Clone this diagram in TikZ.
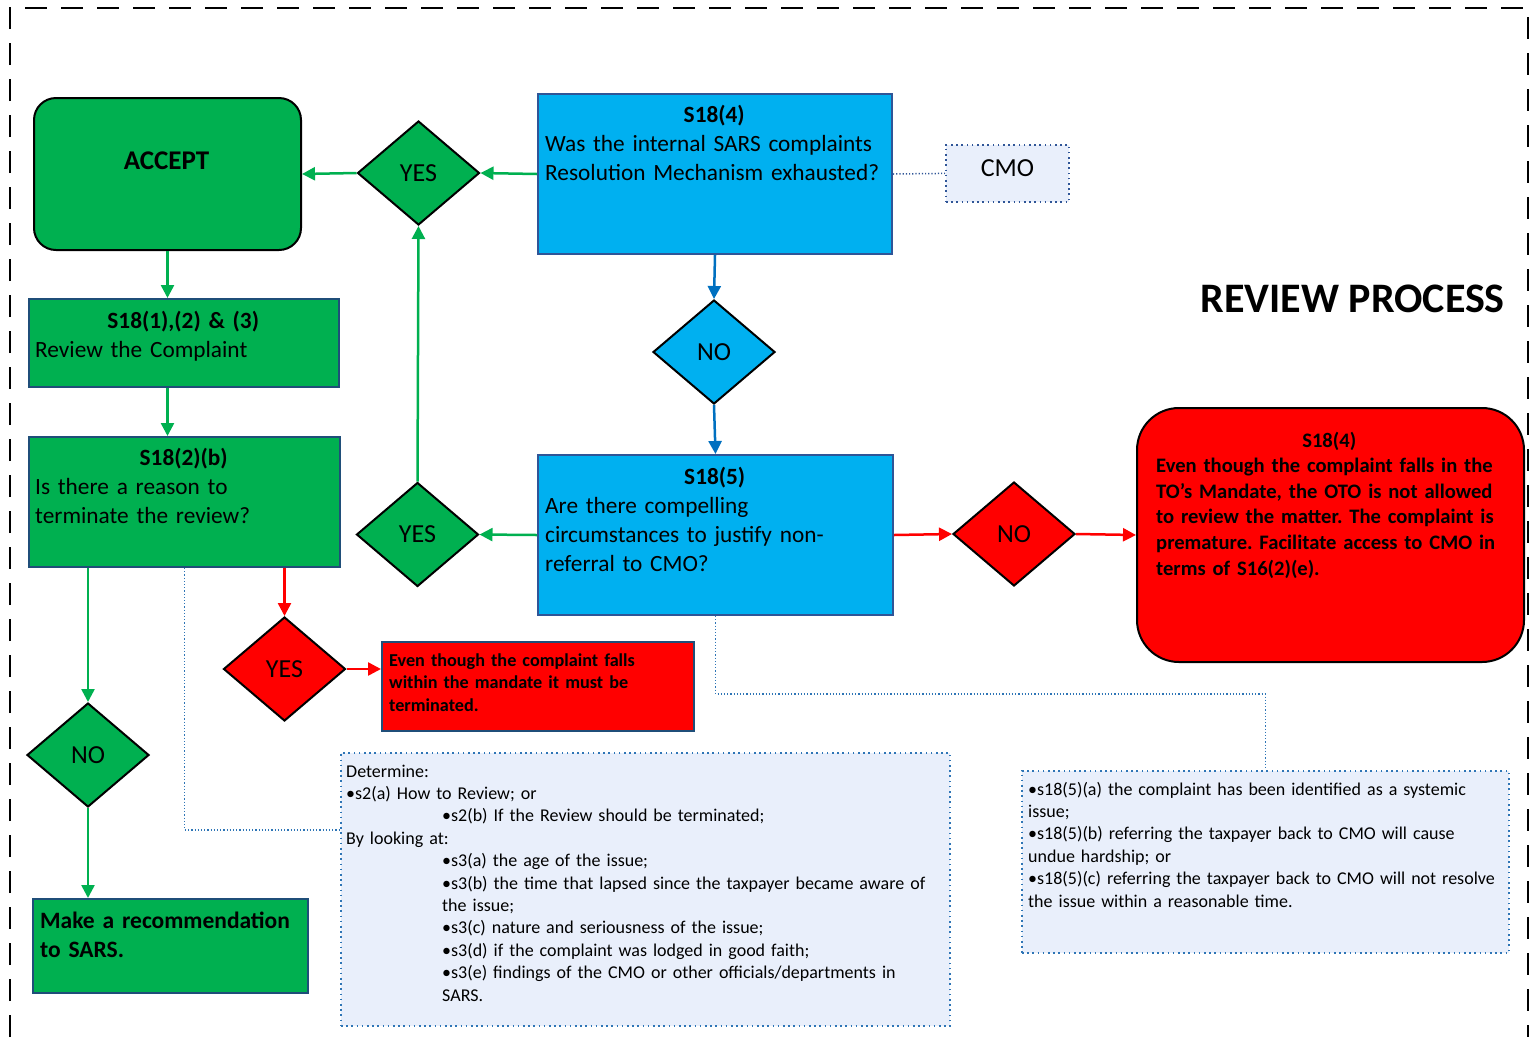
\documentclass[tikz,border=0pt]{standalone}
\usepackage{fontspec}
\setmainfont{Carlito}
\usepackage{xcolor}
\usetikzlibrary{shapes.geometric,arrows.meta,calc}

\definecolor{okgreen}{HTML}{00B050}
\definecolor{skyblue}{HTML}{00B0F0}
\definecolor{arrowblue}{HTML}{0070C0}
\definecolor{boxnavy}{HTML}{1F4E79}
\definecolor{cmonavy}{HTML}{2F5597}
\definecolor{notefill}{HTML}{E9EFFB}
\definecolor{notedot}{HTML}{2E75B6}

\newcommand{\sz}[2]{\fontsize{#1}{#2}\selectfont}
\hyphenpenalty=10000
\exhyphenpenalty=10000

\begin{document}
\frenchspacing
\begin{tikzpicture}[x=1pt, y=-1pt,
  every node/.style={inner sep=0pt, font=\sz{23.3}{29}},
  box/.style={rectangle, anchor=north west, line width=2pt},
  gbox/.style={box, fill=okgreen, draw=boxnavy},
  bbox/.style={box, fill=skyblue, draw=cmonavy},
  rbox/.style={box, fill=red, draw=boxnavy},
  roundbox/.style={box, rounded corners=#1, draw=black},
  note/.style={box, fill=notefill, draw=notedot, line width=1.8pt,
    dash pattern=on 1.6pt off 3.6pt},
  dia/.style={diamond, draw=black, line width=2pt, font=\sz{26}{30},
    minimum width=122pt, minimum height=104pt},
  txt/.style={anchor=base west, align=left, text width=#1},
  garr/.style={draw=okgreen, line width=2.5pt, -{Triangle[length=13pt,width=13pt]}},
  barr/.style={draw=arrowblue, line width=2.5pt, -{Triangle[length=13pt,width=13pt]}},
  rarr/.style={draw=red, line width=2.5pt, -{Triangle[length=13pt,width=13pt]}},
  link/.style={draw=notedot, line width=1.5pt, dash pattern=on 1.2pt off 2pt},
  cmolink/.style={draw=cmonavy, line width=1.5pt, dash pattern=on 1.2pt off 2pt},
  ]
  \useasboundingbox (0,0) rectangle (1530,1037);

  % outer frame
  \draw[line width=2.5pt, dash pattern=on 22pt off 14pt]
    (10,1037) -- (10,8) -- (1528,8) -- (1528,1037);

  % top row
  \node[roundbox=22pt, fill=okgreen, minimum width=267pt, minimum height=152pt] (accept) at (33,97) {};
  \node[font=\bfseries\sz{27}{32}] (accepttxt) at (166.5,161) {ACCEPT};
  \node[dia, fill=okgreen] (yes1) at (418.5,173) {YES};
  \node[bbox, minimum width=354pt, minimum height=160pt] (s184) at (537,93) {};
  \node[txt=338pt] (s184txt) at (545,122)
    {{\centering\bfseries S18(4)\par}Was the internal SARS complaints\\Resolution Mechanism exhausted?};
  \node[note, draw=cmonavy, minimum width=123pt, minimum height=57pt, text depth=10pt,
    font=\sz{26}{30}] (cmo) at (945,144) {CMO};

  \node[anchor=base east, font=\bfseries\sz{42}{50}] (title) at (1505,312) {REVIEW PROCESS};

  % middle
  \node[dia, fill=skyblue] (no1) at (714,352) {NO};
  \node[bbox, minimum width=355pt, minimum height=160pt] (s185) at (537,454) {};
  \node[txt=339pt] (s185txt) at (545,484)
    {{\centering\bfseries S18(5)\par}Are there compelling\\circumstances to justify non-\\referral to CMO?};
  \node[dia, fill=okgreen] (yes2) at (417.5,534.5) {YES};
  \node[dia, fill=red] (no2) at (1014,534) {NO};
  \node[roundbox=42pt, fill=red, minimum width=387pt, minimum height=254pt] (s184b) at (1136,407) {};
  \node[txt=346pt, font=\bfseries\sz{20.6}{25.6}] (s184btxt) at (1156,447)
    {{\centering S18(4)\par}Even though the complaint falls in the\\TO’s Mandate, the OTO is not allowed\\to review the matter. The complaint is\\premature. Facilitate access to CMO in\\terms of S16(2)(e).};

  % left column
  \node[gbox, minimum width=310pt, minimum height=88pt] (s1813) at (28,298) {};
  \node[txt=296pt] (s1813txt) at (35,328)
    {{\centering\bfseries S18(1),(2) \& (3)\par}Review the Complaint};
  \node[gbox, minimum width=311pt, minimum height=130pt] (s182b) at (28,436) {};
  \node[txt=297pt] (s182btxt) at (35,465)
    {{\centering\bfseries S18(2)(b)\par}Is there a reason to\\terminate the review?};
  \node[dia, fill=okgreen] (no3) at (88,755) {NO};
  \node[gbox, minimum width=275pt, minimum height=94pt] (make) at (32,898) {};
  \node[txt=262pt, font=\bfseries\sz{23.5}{29}] (maketxt) at (40,928)
    {Make a recommendation\\to SARS.};
  \node[dia, fill=red] (yes3) at (284.5,669) {YES};
  \node[rbox, minimum width=312pt, minimum height=89pt] (stop) at (381,641) {};
  \node[txt=300pt, font=\bfseries\sz{18.2}{22.5}] (stoptxt) at (389,666)
    {Even though the complaint falls\\within the mandate it must be\\terminated.};

  % notes
  \node[note, minimum width=609pt, minimum height=273pt] (note1) at (340,752) {};
  \node[txt=598pt, font=\sz{18}{22.4}] (note1txt) at (346,777)
    {Determine:\\
     •s2(a) How to Review; or\\
     \hspace*{96pt}•s2(b) If the Review should be terminated;\\
     By looking at:\\
     \hspace*{96pt}•s3(a) the age of the issue;\\
     \hspace*{96pt}•s3(b) the time that lapsed since the taxpayer became aware of\\
     \hspace*{96pt}the issue;\\
     \hspace*{96pt}•s3(c) nature and seriousness of the issue;\\
     \hspace*{96pt}•s3(d) if the complaint was lodged in good faith;\\
     \hspace*{96pt}•s3(e) findings of the CMO or other officials/departments in\\
     \hspace*{96pt}SARS.};
  \node[note, minimum width=487pt, minimum height=182pt] (note2) at (1021,770) {};
  \node[txt=478pt, font=\sz{18}{22.4}] (note2txt) at (1028,795)
    {•s18(5)(a) the complaint has been identified as a systemic\\
     issue;\\
     •s18(5)(b) referring the taxpayer back to CMO will cause\\
     undue hardship; or\\
     •s18(5)(c) referring the taxpayer back to CMO will not resolve\\
     the issue within a reasonable time.};

  % arrows
  \draw[garr] (s184.west) -- (yes1.east);
  \draw[garr] (yes1.west) -- (accept.east);
  \draw[garr] (accept.south) -- (accept.south |- s1813.north);
  \draw[garr] (accept.south |- s1813.south) -- (accept.south |- s182b.north);
  \draw[barr] (s184.south) -- (no1.north);
  \draw[barr] (no1.south) -- (s185.north);
  \draw[garr] (s185.west) -- (yes2.east);
  \draw[garr] (yes2.north) -- (yes1.south);
  \draw[rarr] (s185.east) -- (no2.west);
  \draw[rarr] (no2.east) -- (s184b.west);
  \draw[garr] (s182b.south -| no3.north) -- (no3.north);
  \draw[garr] (no3.south) -- (no3.south |- make.north);
  \draw[rarr] (s182b.south -| yes3.north) -- (yes3.north);
  \draw[rarr] (yes3.east) -- (yes3.east -| stop.west);

  % dotted links
  \draw[cmolink] (s184.east) -- (cmo.west);
  \draw[link] (s182b.south) |- ([shift={(0,78)}]note1.north west);
  \draw[link] (s185.south) -- ++(0,78) -| (note2.north);
\end{tikzpicture}
\end{document}
